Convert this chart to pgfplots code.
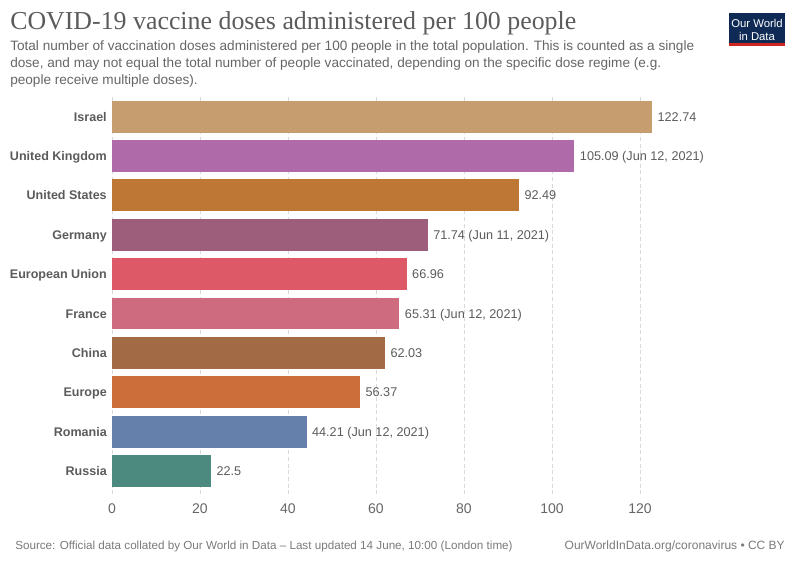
\documentclass[border=0pt]{standalone}
\usepackage{pgfplots}
\pgfplotsset{compat=1.18}
\usepackage{fontspec}
\setmainfont{Liberation Sans}
\newfontfamily\titlefont{Liberation Serif}
\definecolor{txt}{HTML}{5B5B5B}
\definecolor{sub}{HTML}{666666}
\definecolor{foot}{HTML}{7A7A7A}
\definecolor{cIsr}{HTML}{C59D6F}
\definecolor{cUK}{HTML}{AF6BA9}
\definecolor{cUS}{HTML}{BF7736}
\definecolor{cGer}{HTML}{9D5E7C}
\definecolor{cEU}{HTML}{DD5967}
\definecolor{cFra}{HTML}{CF6B7E}
\definecolor{cChn}{HTML}{A36A46}
\definecolor{cEur}{HTML}{CB6E3A}
\definecolor{cRom}{HTML}{6680AC}
\definecolor{cRus}{HTML}{4C8A7F}
\definecolor{navy}{HTML}{0F2A55}
\definecolor{owidred}{HTML}{CE261E}
\begin{document}
\begin{tikzpicture}
\path[use as bounding box] (0pt,0pt) rectangle (600pt,423.75pt);
\begin{scope}[x=0.75pt,y=0.75pt]
% title
\node[anchor=base west,inner sep=0,text=txt] at (10,535) {\titlefont\fontsize{19.4}{24}\selectfont COVID-19 vaccine doses administered per 100 people};
\node[anchor=base west,inner sep=0,text=sub] at (10,514) {\fontsize{10.2}{12}\selectfont Total number of vaccination doses administered per 100 people in the total population. This is counted as a single};
\node[anchor=base west,inner sep=0,text=sub] at (10,497) {\fontsize{10.2}{12}\selectfont dose, and may not equal the total number of people vaccinated, depending on the specific dose regime (e.g.};
\node[anchor=base west,inner sep=0,text=sub] at (10,480) {\fontsize{10.2}{12}\selectfont people receive multiple doses).};
% logo
\fill[navy] (729,552) rectangle (785,522);
\fill[owidred] (729,522) rectangle (785,519);
\node[text=white,inner sep=0] at (757,542) {\fontsize{8.5}{10}\selectfont Our World};
\node[text=white,inner sep=0] at (757,529) {\fontsize{8.5}{10}\selectfont in Data};
% footer
\node[anchor=base west,inner sep=0,text=foot] at (15,16) {\fontsize{8.75}{10}\selectfont Source: Official data collated by Our World in Data -- Last updated 14 June, 10:00 (London time)};
\node[anchor=base east,inner sep=0,text=foot] at (785,16) {\fontsize{9}{10}\selectfont OurWorldInData.org/coronavirus • CC BY};
\end{scope}
\begin{axis}[
  at={(84pt,52.5pt)}, anchor=south west,
  scale only axis, width=429pt, height=298.5pt,
  xmin=0, xmax=130, ymin=-0.5, ymax=9.61, y dir=reverse,
  xbar, bar width=0.81, bar shift=0pt,
  axis line style={draw=none},
  major tick length=0pt,
  xtick={0,20,40,60,80,100,120},
  xmajorgrids, grid style={densely dashed, gray!30, line width=0.6pt},
  ytick={0,...,9},
  yticklabels={Israel,United Kingdom,United States,Germany,European Union,France,China,Europe,Romania,Russia},
  yticklabel style={font=\bfseries\fontsize{9.4}{12}\selectfont, text=txt, inner sep=0pt, anchor=east, text height=6.8pt, text depth=0pt, xshift=-3.75pt},
  xticklabel style={font=\fontsize{10.5}{12}\selectfont, text=sub, inner sep=0pt, yshift=-6pt},
  /pgf/number format/assume math mode=true,
  nodes near coords, point meta=explicit symbolic,
  every node near coord/.style={font=\fontsize{9.5}{12}\selectfont, text=txt, anchor=west, inner sep=0pt, text height=6.8pt, text depth=0pt, xshift=4pt},
  clip=false,
]
\addplot[draw=none, fill=cIsr] coordinates {(122.74,0) [122.74]};
\addplot[draw=none, fill=cUK] coordinates {(105.09,1) [105.09 (Jun 12, 2021)]};
\addplot[draw=none, fill=cUS] coordinates {(92.49,2) [92.49]};
\addplot[draw=none, fill=cGer] coordinates {(71.74,3) [71.74 (Jun 11, 2021)]};
\addplot[draw=none, fill=cEU] coordinates {(66.96,4) [66.96]};
\addplot[draw=none, fill=cFra] coordinates {(65.31,5) [65.31 (Jun 12, 2021)]};
\addplot[draw=none, fill=cChn] coordinates {(62.03,6) [62.03]};
\addplot[draw=none, fill=cEur] coordinates {(56.37,7) [56.37]};
\addplot[draw=none, fill=cRom] coordinates {(44.21,8) [44.21 (Jun 12, 2021)]};
\addplot[draw=none, fill=cRus] coordinates {(22.5,9) [22.5]};
\end{axis}
\end{tikzpicture}
\end{document}
